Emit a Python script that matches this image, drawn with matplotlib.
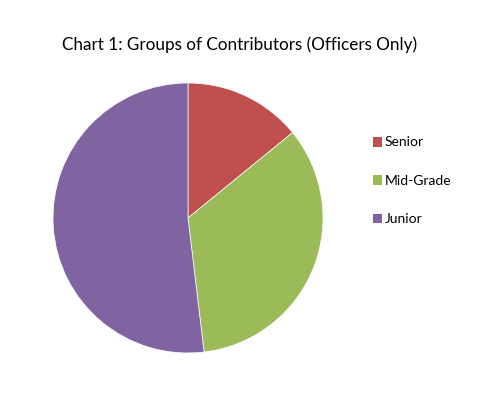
import matplotlib.pyplot as plt
from matplotlib.patches import Patch

labels = ["Senior", "Mid-Grade", "Junior"]
shares = [14.1, 34.0, 51.9]
colors = ["#C0504D", "#9BBB59", "#8064A2"]

plt.rcParams['font.family'] = ['Lato', 'DejaVu Sans']

fig = plt.figure(figsize=(4.91, 3.93), dpi=100)
fig.patch.set_facecolor("white")

ax = fig.add_axes([53 / 491, 40 / 393, 270 / 491, 270 / 393])
ax.pie(shares, colors=colors, startangle=90, counterclock=False,
       wedgeprops=dict(linewidth=0.5, edgecolor="white"))
ax.set_xlim(-1, 1)
ax.set_ylim(-1, 1)
ax.set_aspect("equal")

fig.text(240 / 491, 1 - 45 / 393, "Chart 1: Groups of Contributors (Officers Only)",
         ha="center", va="center", fontsize=12.3)

handles = [Patch(facecolor=c, edgecolor="none") for c in colors]
fig.legend(handles, labels, loc="upper left", bbox_to_anchor=(360 / 491, 1 - 124 / 393),
           frameon=False, fontsize=10, labelspacing=1.9, handlelength=0.7,
           handleheight=0.7, handletextpad=0.2)

plt.savefig("out.png", dpi=100)
plt.close()
